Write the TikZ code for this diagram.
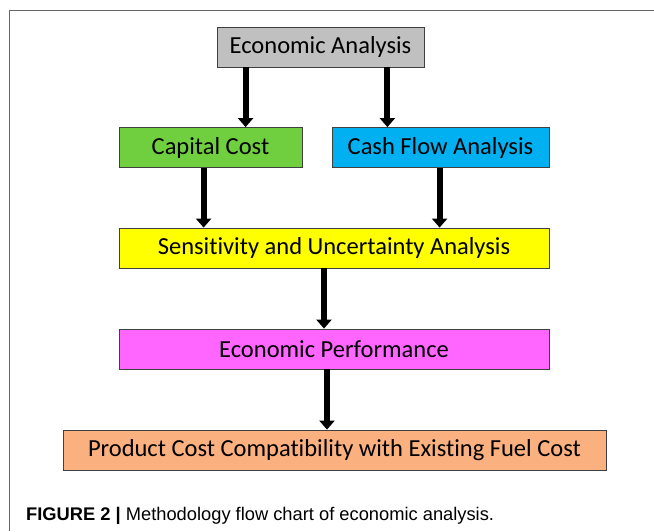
\documentclass[tikz,border=0pt]{standalone}
\usepackage{fontspec}
\setmainfont{Carlito}[Ligatures=NoCommon]
\newfontfamily\capfont{Liberation Sans}
\usepackage{tikz}
\usetikzlibrary{arrows.meta}
\usetikzlibrary{positioning}

\definecolor{boxgray}{HTML}{C0C0C0}
\definecolor{boxgreen}{HTML}{6FCF3F}
\definecolor{boxblue}{HTML}{00B0F0}
\definecolor{boxyellow}{HTML}{FFFF00}
\definecolor{boxpink}{HTML}{FF66FF}
\definecolor{boxorange}{HTML}{FBB07F}

\begin{document}
\begin{tikzpicture}[x=1pt,y=-1pt]
\useasboundingbox (0,0) rectangle (654,531);

\tikzset{flow/.style={line width=6pt,-{Triangle[length=9pt,width=15pt]}}}
\def\bh{40pt}
\tikzstyle{block} = [
	draw=black!75, line width=0.8pt, rectangle,
	minimum height=\bh, inner sep=0pt,
	font=\fontsize{24.5}{28}\selectfont ];

% frame of the figure card
\draw[black!60, line width=1pt] (9.5,531) -- (9.5,10.5) -- (654,10.5);

\node[block,fill=boxgray,minimum width=207pt] (econ) at (320.5,47) {Economic Analysis};
\node[block,fill=boxgreen,minimum width=183pt] (cap) at (210.5,147.5) {Capital Cost};
\node[block,fill=boxblue,minimum width=217pt] (cash) at (440.5,147.5) {Cash Flow Analysis};
\node[block,fill=boxyellow,minimum width=430pt] (sens) at (334,248) {Sensitivity and Uncertainty Analysis};
\node[block,fill=boxpink,minimum width=430pt] (perf) at (334,349) {Economic Performance};
\node[block,fill=boxorange,minimum width=543pt] (prod) at (334.5,450) {Product Cost Compatibility with Existing Fuel Cost};

\draw[flow] ([xshift=29pt]econ.south west) -- ([xshift=29pt]econ.south west |- cap.north);
\draw[flow] ([xshift=-37pt]econ.south east) -- ([xshift=-37pt]econ.south east |- cash.north);
\draw[flow] ([xshift=85pt]cap.south west) -- ([xshift=85pt]cap.south west |- sens.north);
\draw[flow] ([xshift=108pt]cash.south west) -- ([xshift=108pt]cash.south west |- sens.north);
\draw[flow] ([xshift=-10pt]sens.south) -- ([xshift=-10pt]sens.south |- perf.north);
\draw[flow] ([xshift=-7pt]perf.south) -- ([xshift=-7pt]perf.south |- prod.north);

\node[anchor=base west, inner sep=0pt, font=\capfont\fontsize{18.3}{21}\selectfont] (caption) at (26,520)
  {\textbf{FIGURE 2 |} Methodology flow chart of economic analysis.};

\end{tikzpicture}
\end{document}
